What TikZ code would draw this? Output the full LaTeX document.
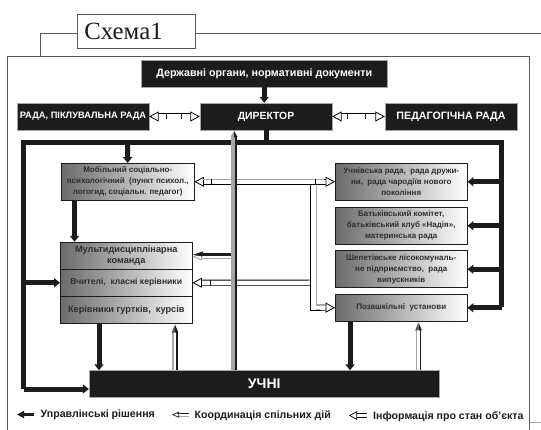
\documentclass[tikz,border=0pt]{standalone}
\usepackage{fontspec}
\setmainfont{Liberation Sans}
\newfontfamily\titlefont{Liberation Serif}
\usetikzlibrary{arrows.meta,calc}
\definecolor{framegray}{gray}{0.35}
\definecolor{boxblack}{gray}{0.11}
\definecolor{boxtext}{gray}{0.18}
\definecolor{edgegray}{gray}{0.65}
\tikzset{
  x=1pt,y=-1pt,
  frameline/.style={draw=framegray,line width=.9pt},
  darkbox/.style={fill=boxblack,draw=gray!70,line width=.3pt,text=white,inner sep=0pt,font=\bfseries\fontsize{10.7}{12}\selectfont,align=center},
  gradbox/.style={draw=boxblack,line width=.9pt,left color=black!58,middle color=black!18,right color=white,inner sep=0pt,text=boxtext,font=\bfseries\fontsize{8}{11}\selectfont,align=center},
  thickline/.style={draw=boxblack,line width=5pt},
  thickarrow/.style={draw=boxblack,line width=5pt,-{Triangle[length=6pt,width=9pt,fill=boxblack]}},
  band/.style={draw=black,line width=.8pt,double=white,double distance=4.4pt},
  bandarrow/.style={band,-{Triangle[length=9.5pt,width=10pt,line width=.8pt,fill=white]}},
  tworoute/.style={band,{Triangle[length=9.5pt,width=10pt,line width=.8pt,fill=white]}-{Triangle[length=9.5pt,width=10pt,line width=.8pt,fill=white]}},
  tick/.style={draw=black,line width=.8pt},
  grayedge/.style={draw=edgegray,line width=.9pt},
  legendtext/.style={inner sep=0pt,anchor=west,text=boxblack,font=\bfseries\fontsize{10.6}{12}\selectfont},
}
\begin{document}
\begin{tikzpicture}
\useasboundingbox (0,0) rectangle (541,430);
\fill[white] (0,0) rectangle (541,430);
% outer frame
\coordinate (fTL) at (7.5,56);
\coordinate (fTR) at (529.5,56);
\coordinate (fBL) at (7.5,430);
\coordinate (fBR) at (529.5,430);
\draw[frameline] (fBL) -- (fTL) -- (fTR) -- (fBR);
\node[draw=framegray,line width=.9pt,fill=white,minimum width=118pt,minimum height=34pt,inner sep=0pt,font=\titlefont\fontsize{24.8}{28}\selectfont,text=boxblack] (title) at (136.5,31) {\kern-26pt Схема1};
\coordinate (tl) at (40,33);
\coordinate (tr) at (541,33);
\draw[frameline] (40,56) -- (tl) -- (tl -| title.west);
\draw[frameline] (tr -| title.east) -- (tr);
\coordinate (br1) at (529.5,422.5);
\coordinate (br2) at (541,422.5);
\draw[draw=edgegray,line width=.9pt] (br1) -- (br2);

% dark boxes
\node[darkbox,minimum width=245.5pt,minimum height=27pt] (top) at (264.25,73.5) {Державні органи, нормативні документи};
\node[darkbox,minimum width=132pt,minimum height=27pt,font=\bfseries\fontsize{10.4}{12}\selectfont] (dir) at (266,116.5) {ДИРЕКТОР};
\node[darkbox,minimum width=132pt,minimum height=27pt,font=\bfseries\fontsize{9.3}{11}\selectfont] (rada) at (83,116.5) {РАДА, ПІКЛУВАЛЬНА РАДА};
\node[darkbox,minimum width=132pt,minimum height=27pt] (ped) at (451,116.5) {ПЕДАГОГІЧНА РАДА};
\node[darkbox,minimum width=350.5pt,minimum height=26.5pt,font=\bfseries\fontsize{14}{16}\selectfont] (pupils) at (264.25,383.75) {УЧНІ};

% gradient boxes, left
\node[gradbox,minimum width=132.5pt,minimum height=36.5pt] (mob) at (127.75,181.75) {Мобільний соціально-\\психологічний \ (пункт психол.,\\логогид, соціальн. педагог)};
\node[gradbox,minimum width=131.5pt,minimum height=27pt,font=\bfseries\fontsize{9.2}{11}\selectfont] (multi) at (126.25,255.75) {Мультидисциплінарна\\команда};
\node[gradbox,minimum width=131.5pt,minimum height=27pt,font=\bfseries\fontsize{8.6}{10}\selectfont] (teach) at (126.25,282.75) {Вчителі, \ класні керівники};
\node[gradbox,minimum width=131.5pt,minimum height=27pt,font=\bfseries\fontsize{9.2}{11}\selectfont] (club) at (126.25,309.75) {Керівники гуртків, \ курсів};

% gradient boxes, right
\node[gradbox,minimum width=131.5pt,minimum height=36.5pt] (r1) at (401.25,181.75) {Учнівська рада, \ рада дружи-\\ни, \ рада чародіїв нового\\покоління};
\node[gradbox,minimum width=131.5pt,minimum height=37pt] (r2) at (401.25,225.75) {Батьківський комітет,\\батьківський клуб «Надія»,\\материнська рада};
\node[gradbox,minimum width=131.5pt,minimum height=37pt] (r3) at (401.25,269.25) {Шепетівське лісокомуналь-\\не підприємство, \ рада\\випускників};
\node[gradbox,minimum width=131.5pt,minimum height=26.5pt] (r4) at (401.25,307.75) {Позашкільні \ установи};

% thick management network
\coordinate (nTL) at (23.5,143);
\coordinate (nTR) at (501.5,143);
\coordinate (nBL) at (23.5,389);
\coordinate (nBR) at (501.5,307.5);
\draw[thickline,line join=miter] (nBL) -- (nTL) -- (nTR) -- (nBR);
\draw[thickline] (dir.south) -- (dir.south |- nTL);
\draw[thickarrow] (top.south) -- (top.south |- dir.north);
\draw[thickarrow] (nBL) -- (pupils.west |- nBL);
\draw[thickarrow] (teach.west -| nTL) -- (teach.west);
\coordinate (mobIn) at (127.5,143);
\draw[thickarrow] (mobIn) -- (mob.north);
\coordinate (mobOut) at (74.5,200);
\draw[thickarrow] (mobOut) -- (mobOut |- multi.north);
\coordinate (clubOut) at (99,323.5);
\draw[thickarrow] (clubOut) -- (clubOut |- pupils.north);
\coordinate (r4Out) at (350,321);
\draw[thickarrow] (r4Out) -- (r4Out |- pupils.north);
\draw[thickarrow] (r1.east -| nTR) -- (r1.east);
\draw[thickarrow] (r2.east -| nTR) -- (r2.east);
\draw[thickarrow] (r3.east -| nTR) -- (r3.east);
\draw[thickarrow] (r4.east -| nTR) -- (r4.east);

% double arrows between top boxes
\draw[tworoute] (rada.east) -- (dir.west);
\draw[tick] (166,114) -- (166,119.5) (181,114) -- (181,119.5);
\draw[tworoute] (dir.east) -- (ped.west);
\draw[tick] (347,114) -- (347,119.5) (365,114) -- (365,119.5);

% horizontal information bands
\draw[tworoute] (mob.east) -- (r1.west);
\draw[grayedge] (203,179) -- (324,179);
\draw[tick] (211.7,179) -- (211.7,184.5);
\draw[tick] (315.7,179) -- (315.7,184.5);

% teachers band and branch to out-of-school institutions
\coordinate (bX) at (310.5,282.7);
\draw[band,{Triangle[length=9.5pt,width=10pt,line width=.8pt,fill=white]}-] (teach.east) -- (bX);
\draw[tick] (210,280) -- (210,285.5);
\coordinate (bY) at (316,307.5);
\draw[bandarrow] (bY) -- (r4.west);
\draw[tick] (310.5,184.5) -- (310.5,310.2) -- (322,310.2);
\fill[white] (311,184.8) rectangle (315.6,309.7);
\draw[grayedge] (316,184.8) -- (316,304.6);

% coordination arrow to the multidisciplinary team
\coordinate (cX) at (233,256.7);
\draw[band,draw=edgegray,double distance=2.2pt,-{Triangle[length=9.5pt,width=7.5pt,line width=.8pt,fill=white]}] (cX) -- (multi.east |- cX);
\draw[draw=boxblack,line width=2.4pt] (cX |- 0,254.6) -- (200,254.6);
\fill[boxblack] (193,254.8) -- (203,251.5) -- (203,256.5) -- cycle;

% central arrow from the pupils to the director
\draw[draw=boxblack,line width=2.2pt] (235.6,370.5) -- (235.6,136);
\draw[draw=edgegray,line width=3.6pt] (232.8,370.5) -- (232.8,136);
\fill[edgegray] (234,131) -- (230.5,137) -- (234.5,137) -- cycle;
\fill[boxblack] (234,131) -- (237.5,137) -- (234,137) -- cycle;

% upward information arrows
\coordinate (upA) at (175,370.5);
\draw[draw=edgegray,line width=1.3pt] ($(upA)+(-2,0)$) -- ($(upA |- club.south)+(-2,8)$);
\draw[draw=boxblack,line width=1.6pt] ($(upA)+(2,0)$) -- ($(upA |- club.south)+(2,8)$);
\fill[boxblack] (upA |- club.south) ++(0,1) -- ++(3.4,8) -- ++(-3.4,0) -- cycle;
\fill[gray!70!black] (upA |- club.south) ++(0,1) -- ++(-3.4,8) -- ++(3.4,0) -- cycle;
\coordinate (upB) at (418.5,370.5);
\draw[draw=edgegray,line width=1.3pt] ($(upB)+(-2,0)$) -- ($(upB |- r4.south)+(-2,8)$);
\draw[draw=boxblack,line width=1.6pt] ($(upB)+(2,0)$) -- ($(upB |- r4.south)+(2,8)$);
\fill[boxblack] (upB |- r4.south) ++(0,1) -- ++(3.4,8) -- ++(-3.4,0) -- cycle;
\fill[gray!70!black] (upB |- r4.south) ++(0,1) -- ++(-3.4,8) -- ++(3.4,0) -- cycle;

% legend
\coordinate (l1a) at (34,414.5);
\coordinate (l1b) at (17,414.5);
\draw[draw=boxblack,line width=3.5pt,-{Triangle[length=7pt,width=7pt,fill=boxblack]}] (l1a) -- (l1b);
\node[legendtext] (l1) at (40.5,414.5) {Управлінські рішення};
\coordinate (l2a) at (188.5,414.7);
\coordinate (l2b) at (172,414.7);
\draw[band,draw=edgegray,double distance=2pt,-{Triangle[length=7pt,width=6pt,line width=.7pt,color=boxblack,fill=white]}] (l2a) -- (l2b);
\draw[draw=boxblack,line width=1.1pt] (188.5,413.2) -- (177,413.2);
\node[legendtext] (l2) at (194.5,415.5) {Координація спільних дій};
\coordinate (l3a) at (367,415.5);
\coordinate (l3b) at (349,415.5);
\draw[band,line width=.7pt,double distance=3pt,-{Triangle[length=8pt,width=8.5pt,line width=.7pt,fill=white]}] (l3a) -- (l3b);
\node[legendtext] (l3) at (373,416.5) {Інформація про стан об’єкта};
\end{tikzpicture}
\end{document}
